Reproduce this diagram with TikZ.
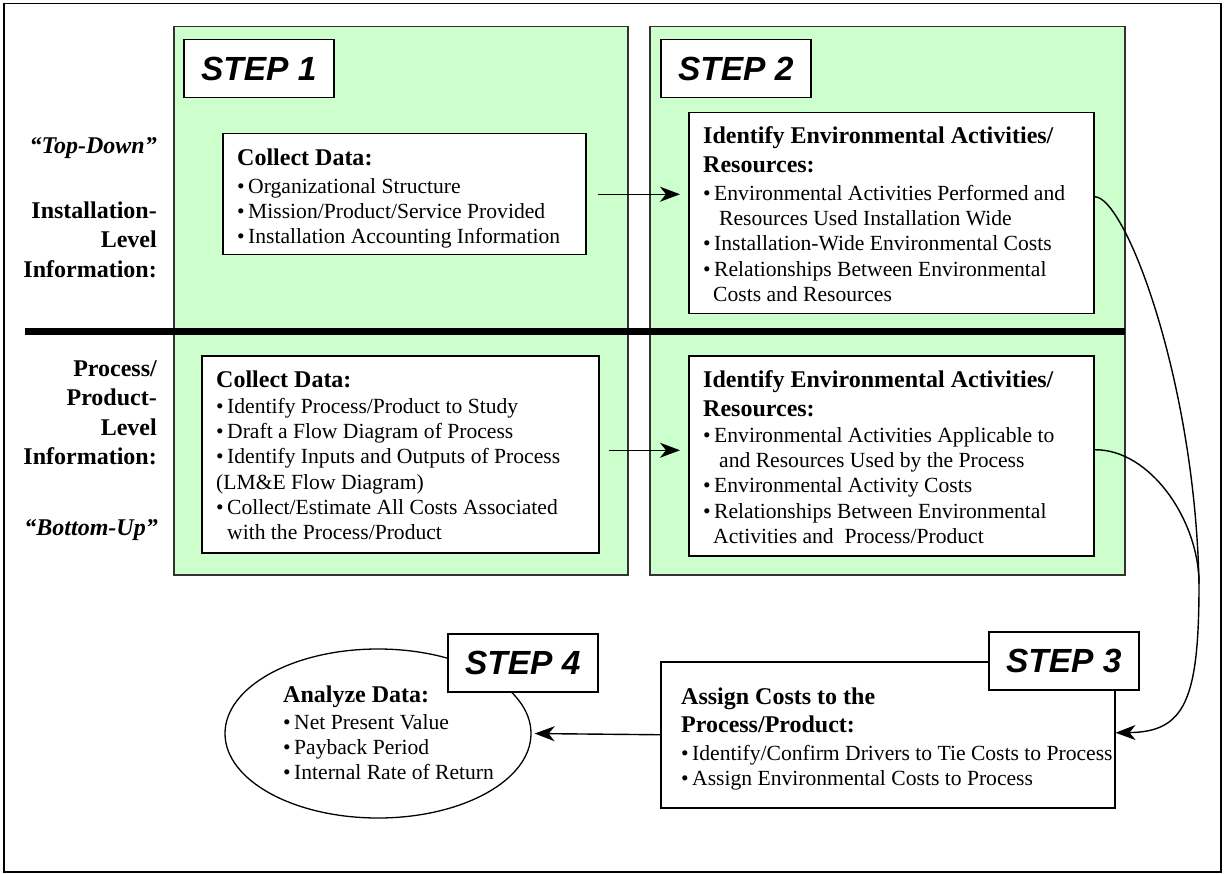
\documentclass[tikz,border=0pt]{standalone}
\usepackage{fontspec}
\setmainfont{Liberation Serif}
\setsansfont{Liberation Sans}
\usetikzlibrary{arrows.meta,calc,shapes.geometric}
\definecolor{panelgreen}{RGB}{204,255,204}
\definecolor{panelline}{RGB}{50,50,50}
\newcommand{\bl}{\makebox[11pt][l]{\textbullet}}
\newcommand{\hd}[1]{{\bfseries\fontsize{24}{25}\selectfont#1}}
\newcommand{\fr}{\rule{0pt}{18pt}}
\begin{document}
\begin{tikzpicture}[x=1pt,y=-1pt,
  panel/.style={draw=panelline, fill=panelgreen, line width=1.5pt, rectangle, inner sep=0pt, anchor=north west},
  cbox/.style={draw=black, fill=white, line width=1.5pt, rectangle, inner sep=0pt, anchor=north west},
  stepbox/.style={draw=black, fill=white, line width=1.5pt, rectangle, inner sep=0pt, anchor=north west,
    minimum width=150pt, minimum height=58pt, font=\sffamily\bfseries\itshape\fontsize{33.5}{36}\selectfont},
  txt/.style={anchor=north west, inner sep=0pt, align=left, font=\fontsize{21.6}{25.3}\selectfont},
  lbl/.style={anchor=north east, inner sep=0pt, align=right, font=\bfseries\fontsize{24}{29.5}\selectfont},
  conn/.style={line width=1.4pt},
  arr/.style={line width=1.4pt, -{Stealth[length=20pt,width=15pt,inset=6pt]}}
]
\useasboundingbox (0,0) rectangle (1225,874);

% outer frame
\node[draw=black, line width=1.5pt, rectangle, inner sep=0pt, anchor=north west,
  minimum width=1217pt, minimum height=868pt] (frame) at (3,3) {};

% green panels
\node[panel, minimum width=454pt, minimum height=548pt] (P1) at (173,26) {};
\node[panel, minimum width=475pt, minimum height=548pt] (P2) at (649,26) {};

% thick separator
\draw[line width=7pt] (25,331.5) -- (1125,331.5);

% step labels 1 and 2
\node[stepbox] (S1lbl) at (183,39) {STEP 1};
\node[stepbox] (S2lbl) at (660,39) {STEP 2};

% content boxes
\node[cbox, minimum width=363pt, minimum height=121pt] (A) at (222,133) {};
\node[cbox, minimum width=405pt, minimum height=201pt] (B) at (688,112) {};
\node[cbox, minimum width=397pt, minimum height=197pt] (C) at (201,355) {};
\node[cbox, minimum width=405pt, minimum height=200pt] (D) at (688,355) {};
\node[cbox, minimum width=454pt, minimum height=146pt] (S3) at (660,661) {};
\node[ellipse, draw=black, fill=white, line width=1.3pt, inner sep=0pt,
  minimum width=306pt, minimum height=169pt] (E) at (378,733.5) {};

\node[stepbox] (S3lbl) at (988,631) {STEP 3};
\node[stepbox] (S4lbl) at (447,633) {STEP 4};

% texts
\node[txt] (tA) at (237,147) {\hd{\fr Collect Data:}\\[2.7pt]
\bl Organizational Structure\\
\bl Mission/Product/Service Provided\\
\bl Installation Accounting Information};

\node[txt] (tB) at (703,125) {\hd{\fr Identify Environmental Activities/}\\[3.7pt]
\hd{Resources:}\\[2.7pt]
\bl Environmental Activities Performed and\\
\hspace*{16pt}Resources Used Installation Wide\\
\bl Installation-Wide Environmental Costs\\
\bl Relationships Between Environmental\\
\hspace*{10pt}Costs and Resources};

\node[txt] (tC) at (216,369) {\hd{\fr Collect Data:}\\[0.7pt]
\bl Identify Process/Product to Study\\
\bl Draft a Flow Diagram of Process\\
\bl Identify Inputs and Outputs of Process\\
(LM\&E Flow Diagram)\\
\bl Collect/Estimate All Costs Associated\\
\hspace*{11pt}with the Process/Product};

\node[txt] (tD) at (703,369) {\hd{\fr Identify Environmental Activities/}\\[3.7pt]
\hd{Resources:}\\[0.7pt]
\bl Environmental Activities Applicable to\\
\hspace*{16pt}and Resources Used by the Process\\
\bl Environmental Activity Costs\\
\bl Relationships Between Environmental\\
\hspace*{10pt}Activities and\ \ Process/Product};

\node[txt] (tS3) at (681,686) {\hd{\fr Assign Costs to the}\\[2.7pt]
\hd{Process/Product:}\\[2.7pt]
\bl Identify/Confirm Drivers to Tie Costs to Process\\
\bl Assign Environmental Costs to Process};

\node[txt] (tE) at (283,684) {\hd{\fr Analyze Data:}\\[1.7pt]
\bl Net Present Value\\
\bl Payback Period\\
\bl Internal Rate of Return};

% left labels
\node[lbl, font=\bfseries\itshape\fontsize{24}{29.5}\selectfont] (Ltop) at (157,135) {\fr “Top-Down”};
\node[lbl] (Linst) at (157,200) {\fr Installation-\\Level\\Information:};
\node[lbl] (Lproc) at (157,358) {\fr Process/\\Product-\\Level\\Information:};
\node[lbl, font=\bfseries\itshape\fontsize{24}{29.5}\selectfont] (Lbot) at (158,517) {\fr “Bottom-Up”};

% connectors
\draw[arr, shorten <=11pt, shorten >=8pt] (A.east) -- (A.east -| B.west);
\coordinate (c1) at ([yshift=4pt]C.east);
\draw[arr, shorten <=9pt, shorten >=8pt] (c1) -- (c1 -| D.west);
\draw[arr, shorten >=3pt] (S3.west) -- (E.east);

\coordinate (m) at (1199,584);
\draw[conn] ([yshift=16.5pt]B.east) .. controls (1125,196) and (1195,380) .. (m);
\draw[conn] ([yshift=6pt]D.east) .. controls (1150,449) and (1199,520) .. (m);
\draw[arr] (m) .. controls (1199,700) and (1185,732) .. ([yshift=2pt]S3.east);
\end{tikzpicture}
\end{document}
